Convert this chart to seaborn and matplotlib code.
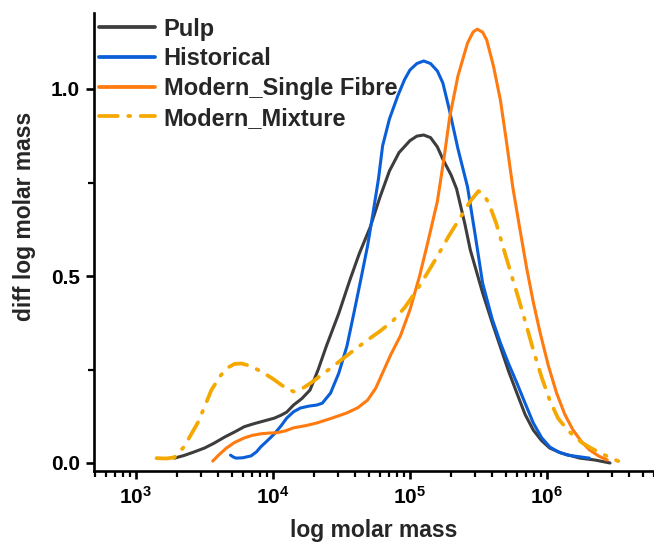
import numpy as np
import pandas as pd
import matplotlib
matplotlib.use("Agg")
import matplotlib.pyplot as plt
import seaborn as sns
from matplotlib.ticker import FixedLocator, LogLocator, NullFormatter

# ---------------- data (log10 molar mass, diff log molar mass) ----------------
pulp_logM = [3.28, 3.35, 3.42, 3.50, 3.57, 3.65, 3.72, 3.79, 3.86, 3.93, 4.01, 4.06, 4.10,
             4.15, 4.21, 4.27, 4.33, 4.39, 4.48, 4.56, 4.63, 4.71, 4.78, 4.85, 4.92, 5.00,
             5.05, 5.10, 5.15, 5.20, 5.24, 5.30, 5.34, 5.40, 5.44, 5.53, 5.60, 5.66, 5.72,
             5.78, 5.84, 5.90, 5.96, 6.02, 6.10, 6.24, 6.35, 6.46]
pulp_y = [0.013, 0.020, 0.029, 0.040, 0.053, 0.070, 0.083, 0.097, 0.105, 0.112, 0.120, 0.128, 0.136,
          0.155, 0.172, 0.195, 0.250, 0.313, 0.400, 0.488, 0.560, 0.631, 0.710, 0.781, 0.830, 0.862,
          0.874, 0.877, 0.870, 0.845, 0.812, 0.770, 0.733, 0.640, 0.570, 0.455, 0.375, 0.310, 0.245,
          0.187, 0.130, 0.088, 0.060, 0.040, 0.027, 0.013, 0.008, 0.000]

hist_logM = [3.69, 3.71, 3.73, 3.78, 3.84, 3.88, 3.91, 3.96, 4.01, 4.06, 4.10, 4.15, 4.20,
             4.26, 4.32, 4.36, 4.42, 4.48, 4.54, 4.59, 4.64, 4.69, 4.73, 4.77, 4.80, 4.85,
             4.91, 4.96, 5.00, 5.05, 5.10, 5.15, 5.20, 5.24, 5.29, 5.35, 5.42, 5.48, 5.53,
             5.60, 5.66, 5.72, 5.78, 5.84, 5.90, 5.96, 6.02, 6.08, 6.15, 6.23, 6.31]
hist_y = [0.021, 0.016, 0.013, 0.014, 0.019, 0.030, 0.043, 0.060, 0.078, 0.100, 0.120, 0.137, 0.147,
          0.152, 0.155, 0.160, 0.187, 0.240, 0.313, 0.400, 0.489, 0.580, 0.668, 0.760, 0.848, 0.920,
          0.981, 1.025, 1.051, 1.068, 1.075, 1.068, 1.048, 1.016, 0.940, 0.840, 0.738, 0.600, 0.481,
          0.385, 0.321, 0.265, 0.214, 0.160, 0.107, 0.068, 0.043, 0.030, 0.021, 0.017, 0.013]

single_logM = [3.56, 3.60, 3.66, 3.72, 3.79, 3.85, 3.91, 3.97, 4.03, 4.09, 4.15, 4.24, 4.32,
               4.43, 4.54, 4.62, 4.69, 4.75, 4.80, 4.86, 4.93, 5.00, 5.07, 5.13, 5.20, 5.25,
               5.29, 5.35, 5.42, 5.46, 5.49, 5.53, 5.56, 5.61, 5.66, 5.70, 5.75, 5.80, 5.85,
               5.90, 5.95, 6.01, 6.07, 6.13, 6.19, 6.25, 6.31, 6.38, 6.44]
single_y = [0.005, 0.020, 0.040, 0.055, 0.067, 0.074, 0.078, 0.080, 0.081, 0.086, 0.094, 0.100, 0.107,
            0.120, 0.134, 0.148, 0.168, 0.200, 0.241, 0.290, 0.340, 0.410, 0.500, 0.590, 0.700, 0.820,
            0.925, 1.035, 1.123, 1.152, 1.160, 1.152, 1.131, 1.060, 0.970, 0.870, 0.738, 0.630, 0.524,
            0.430, 0.348, 0.260, 0.187, 0.130, 0.088, 0.058, 0.035, 0.018, 0.008]

mix_logM = [3.15, 3.22, 3.28, 3.35, 3.40, 3.45, 3.50, 3.55, 3.62, 3.67, 3.72, 3.77, 3.81,
            3.87, 3.93, 4.00, 4.06, 4.11, 4.15, 4.20, 4.28, 4.36, 4.44, 4.56, 4.69, 4.78,
            4.88, 4.96, 5.05, 5.13, 5.20, 5.28, 5.37, 5.44, 5.50, 5.54, 5.58, 5.63, 5.68,
            5.73, 5.78, 5.84, 5.90, 5.96, 6.02, 6.08, 6.15, 6.21, 6.26, 6.32, 6.39, 6.45, 6.52]
mix_y = [0.013, 0.012, 0.015, 0.043, 0.075, 0.107, 0.150, 0.195, 0.235, 0.255, 0.265, 0.266, 0.262,
         0.253, 0.241, 0.225, 0.209, 0.197, 0.191, 0.196, 0.215, 0.237, 0.259, 0.293, 0.329, 0.352,
         0.382, 0.415, 0.462, 0.510, 0.553, 0.605, 0.658, 0.700, 0.727, 0.718, 0.690, 0.640, 0.577,
         0.515, 0.455, 0.380, 0.302, 0.230, 0.168, 0.120, 0.088, 0.068, 0.053, 0.040, 0.027, 0.016, 0.005]

series_names = ["Pulp", "Historical", "Modern_Single Fibre", "Modern_Mixture"]
xtick_values = [1e3, 1e4, 1e5, 1e6]
xtick_labels = [r"$\mathbf{10^{3}}$", r"$\mathbf{10^{4}}$", r"$\mathbf{10^{5}}$", r"$\mathbf{10^{6}}$"]
ytick_values = [0.0, 0.5, 1.0]
ytick_labels = ["0.0", "0.5", "1.0"]

# ---------------- style ----------------
sns.set_theme(style="ticks")
plt.rcParams["font.family"] = ["Liberation Sans", "DejaVu Sans"]
plt.rcParams["font.weight"] = "bold"
plt.rcParams["mathtext.fontset"] = "custom"
plt.rcParams["mathtext.rm"] = "Liberation Sans:bold"
plt.rcParams["mathtext.bf"] = "Liberation Sans:bold"
plt.rcParams["mathtext.it"] = "Liberation Sans:bold"

colors = {"Pulp": "#3d3d3d", "Historical": "#0a5fd8",
          "Modern_Single Fibre": "#ff7a0f", "Modern_Mixture": "#f5a800"}

frames = []
for name, lx, ly in [("Pulp", pulp_logM, pulp_y), ("Historical", hist_logM, hist_y),
                     ("Modern_Single Fibre", single_logM, single_y),
                     ("Modern_Mixture", mix_logM, mix_y)]:
    frames.append(pd.DataFrame({"M": np.power(10.0, lx), "y": ly, "series": name}))
df = pd.concat(frames, ignore_index=True)

W, H = 654, 547
fig = plt.figure(figsize=(W / 100, H / 100), dpi=100)
ax = fig.add_axes([94 / W, 1 - 471 / H, 1 - 94 / W, (471 - 13) / H])

for name in series_names:
    sub = df[df["series"] == name]
    if name == "Modern_Mixture":
        sns.lineplot(data=sub, x="M", y="y", ax=ax, color=colors[name], lw=2.7,
                     sort=False, label=name, estimator=None)
        line = ax.get_lines()[-1]
        line.set_dashes([5, 2.8, 0.5, 2.8])
        line.set_dash_capstyle("round")
    else:
        sns.lineplot(data=sub, x="M", y="y", ax=ax, color=colors[name], lw=2.2,
                     sort=False, label=name, estimator=None)
        ax.get_lines()[-1].set_solid_joinstyle("round")

ax.set_xscale("log")
ax.set_xlim(10 ** (3 - 42 / 137), 10 ** (3 + 518 / 137))
ax.set_ylim((463 - 471) / 374, (463 - 13) / 374)

ax.xaxis.set_major_locator(FixedLocator(xtick_values))
ax.set_xticklabels(xtick_labels)
ax.xaxis.set_minor_locator(LogLocator(base=10, subs=np.arange(2, 10)))
ax.xaxis.set_minor_formatter(NullFormatter())
ax.set_yticks(ytick_values)
ax.set_yticklabels(ytick_labels)
ax.set_yticks([0.25, 0.75], minor=True)

for s in ["top", "right"]:
    ax.spines[s].set_visible(False)
for s in ["left", "bottom"]:
    ax.spines[s].set_linewidth(1.9)
    ax.spines[s].set_color("black")

ax.tick_params(axis="both", which="major", direction="out", length=6, width=1.9,
               labelsize=15, colors="black", pad=4)
ax.tick_params(axis="x", which="major", labelsize=15, pad=5)
ax.tick_params(axis="both", which="minor", direction="out", length=4, width=1.6,
               colors="black")
for lab in ax.get_yticklabels():
    lab.set_fontweight("bold")

ax.set_xlabel("log molar mass", fontsize=16.5, fontweight="bold")
ax.set_ylabel("diff log molar mass", fontsize=16.5, fontweight="bold")
ax.xaxis.set_label_coords(0.5, -(519 - 471) / 458)
ax.yaxis.set_label_coords(-(94 - 36) / 560, (471 - 216) / 458)

leg = ax.legend(loc="upper left", bbox_to_anchor=(0.0, 1.0), frameon=False,
                fontsize=17, handlelength=2.4, handletextpad=0.35, labelspacing=0.28,
                borderaxespad=0.0, borderpad=0.2)
for t in leg.get_texts():
    t.set_fontweight("bold")
for h in leg.get_lines():
    h.set_linewidth(2.7)

fig.savefig("out.png", dpi=100)
